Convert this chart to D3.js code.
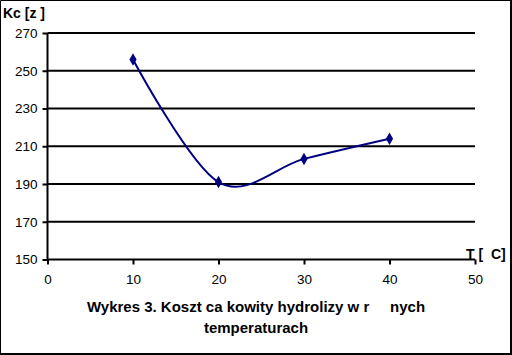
<!DOCTYPE html>
<html><head><meta charset="utf-8">
<script src="https://cdn.jsdelivr.net/npm/d3@7"></script>
<style>html,body{margin:0;padding:0;background:#fff}svg{display:block}text{font-family:"Liberation Sans",Arial,sans-serif}</style>
</head><body>
<script>
const temps = [10, 20, 30, 40];
const costs = [256, 191, 203.3, 214];
const xTicks = [0, 10, 20, 30, 40, 50];
const yTicks = [150, 170, 190, 210, 230, 250, 270];
const yLabel = "Kc [z ]";
const xLabel = "T [  C]";
const titleLines = ["Wykres 3. Koszt ca kowity hydrolizy w r     nych", "temperaturach"];

const W = 512, H = 355;
const svg = d3.select("body").append("svg").attr("width", W).attr("height", H);
svg.append("rect").attr("width", W).attr("height", H).attr("fill", "#fff");

const x = d3.scaleLinear().domain([0, 50]).range([47.5, 475]);
const y = d3.scaleLinear().domain([150, 270]).range([259.5, 33]);

// gridlines
svg.append("g").selectAll("line").data(yTicks.filter(d => d > 150)).join("line")
  .attr("x1", x(0)).attr("x2", x(50)).attr("y1", d => y(d)).attr("y2", d => y(d))
  .attr("stroke", "#000").attr("stroke-width", 2);

// y axis
const ya = svg.append("g").attr("transform", `translate(${x(0)},0)`)
  .call(d3.axisLeft(y).tickValues(yTicks).tickSize(5).tickPadding(5));
ya.select(".domain").attr("stroke-width", 2).attr("d", `M0,${y(270)}V${y(150)}`);
ya.selectAll(".tick line").attr("stroke-width", 2);
ya.selectAll("text").attr("font-size", 13.5).attr("fill", "#000");

// x axis
const xa = svg.append("g").attr("transform", `translate(0,${y(150)})`)
  .call(d3.axisBottom(x).tickValues(xTicks).tickSize(5).tickPadding(10));
xa.select(".domain").attr("stroke-width", 2).attr("d", `M${x(0)},0H${x(50)}`);
xa.selectAll(".tick line").attr("stroke-width", 2);
xa.selectAll("text").attr("font-size", 13.5).attr("fill", "#000");

// line
const data = temps.map((t, i) => [t, costs[i]]);
svg.append("path").datum(data)
  .attr("d", d3.line().x(d => x(d[0])).y(d => y(d[1])).curve(d3.curveCardinal.tension(0)))
  .attr("fill", "none").attr("stroke", "#000080").attr("stroke-width", 2);

svg.append("g").selectAll("path").data(data).join("path")
  .attr("d", d3.symbol(d3.symbolDiamond, 45))
  .attr("transform", d => `translate(${x(d[0])},${y(d[1])})`)
  .attr("fill", "#000080");

// labels
svg.append("text").attr("x", 3).attr("y", 18).attr("font-size", 14).attr("font-weight", "bold")
  .style("white-space", "pre").text(yLabel);
svg.append("text").attr("x", 466).attr("y", 259).attr("font-size", 14).attr("font-weight", "bold")
  .style("white-space", "pre").text(xLabel);
svg.append("g").selectAll("text").data(titleLines).join("text")
  .attr("x", 256).attr("y", (d, i) => 312 + i * 21).attr("text-anchor", "middle")
  .attr("font-size", 15).attr("font-weight", "bold").style("white-space", "pre").text(d => d);

// border
svg.append("path").attr("d", `M0.5,0.5H${W - 1.5}V${H - 1.5}H0.5Z`).attr("fill", "none").attr("stroke", "#000").attr("stroke-width", 1);
svg.append("path").attr("d", `M${W - 1},0V${H - 1}H0`).attr("fill", "none").attr("stroke", "#000").attr("stroke-width", 2);
</script>
</body></html>
